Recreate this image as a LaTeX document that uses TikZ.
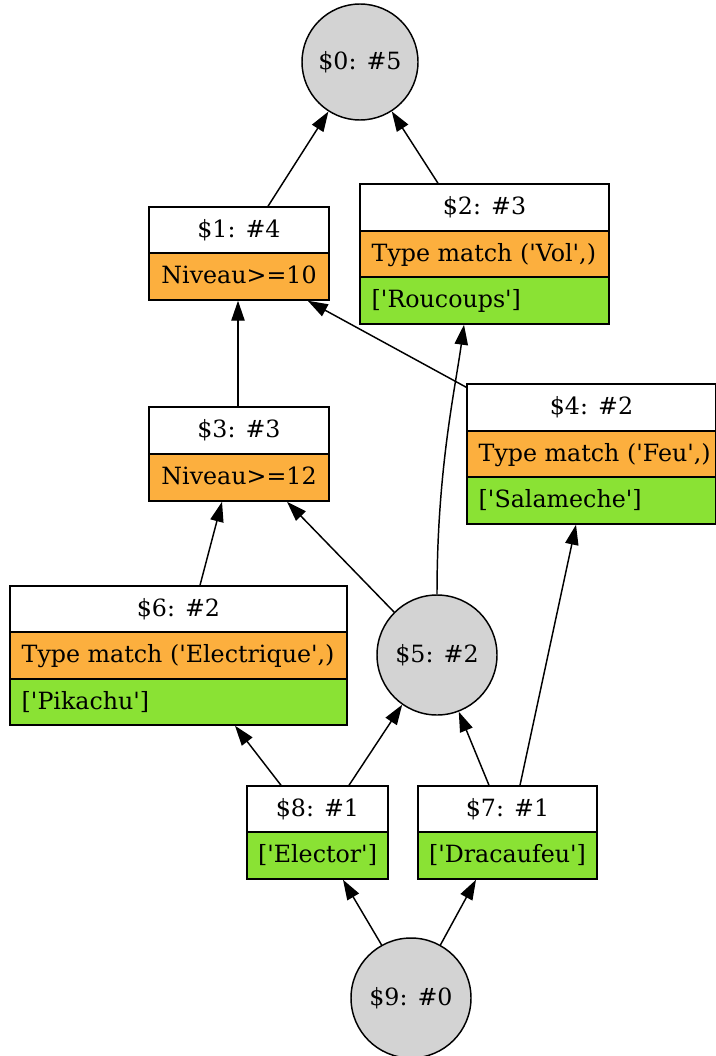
\documentclass[tikz,border=0pt]{standalone}
\usepackage{fontspec}
\newfontfamily\gv{DejaVu Serif}
\usetikzlibrary{arrows.meta,calc,fit}
\definecolor{orng}{HTML}{FCAF3E}
\definecolor{grn}{HTML}{8AE234}
\definecolor{gry}{HTML}{D3D3D3}
\begin{document}
\begin{tikzpicture}[x=0.75pt,y=-0.75pt, line width=1.1pt,
  font=\gv\fontsize{17.8}{20}\selectfont,
  txt/.style={inner sep=0pt, anchor=base},
  ltxt/.style={inner sep=0pt, anchor=base west},
  circ/.style={circle, draw, fill=gry, inner sep=0pt},
  boxframe/.style={draw, inner sep=0pt},
  edge/.style={-{Triangle[length=15pt,width=10pt]}}]
\useasboundingbox (0,0) rectangle (715,1056);

% circles
\node[circ, minimum size=87pt] (n0) at (360,62) {\$0: \#5};
\node[circ, minimum size=90pt] (n5) at (437,655) {\$5: \#2};
\node[circ, minimum size=90pt] (n9) at (411,998) {\$9: \#0};

% $1
\filldraw[fill=white] (149,207) rectangle (329,253);
\filldraw[fill=orng] (149,253) rectangle (329,300);
\node[fit={(149,207)(329,300)}, boxframe] (n1) {};
\node[txt] (n1a) at (239,237) {\$1: \#4};
\node[txt] (n1b) at (239,283.5) {Niveau>=10};

% $2
\filldraw[fill=white] (360,184) rectangle (609,231);
\filldraw[fill=orng] (360,231) rectangle (609,277);
\filldraw[fill=grn] (360,277) rectangle (609,324);
\node[fit={(360,184)(609,324)}, boxframe] (n2) {};
\node[txt] (n2a) at (484.5,214.5) {\$2: \#3};
\node[ltxt] (n2b) at (371,261) {Type match ('Vol',)};
\node[ltxt] (n2c) at (371,307.5) {['Roucoups']};

% $3
\filldraw[fill=white] (149,407) rectangle (329,454);
\filldraw[fill=orng] (149,454) rectangle (329,501);
\node[fit={(149,407)(329,501)}, boxframe] (n3) {};
\node[txt] (n3a) at (239,437.5) {\$3: \#3};
\node[txt] (n3b) at (239,484.5) {Niveau>=12};

% $4
\filldraw[fill=white] (467,384) rectangle (716,431);
\filldraw[fill=orng] (467,431) rectangle (716,477);
\filldraw[fill=grn] (467,477) rectangle (716,524);
\node[fit={(467,384)(716,524)}, boxframe] (n4) {};
\node[txt] (n4a) at (591.5,414.5) {\$4: \#2};
\node[ltxt] (n4b) at (478,461) {Type match ('Feu',)};
\node[ltxt] (n4c) at (478,507.5) {['Salameche']};

% $6
\filldraw[fill=white] (10,586) rectangle (347,632);
\filldraw[fill=orng] (10,632) rectangle (347,679);
\filldraw[fill=grn] (10,679) rectangle (347,725);
\node[fit={(10,586)(347,725)}, boxframe] (n6) {};
\node[txt] (n6a) at (178.5,616) {\$6: \#2};
\node[ltxt] (n6b) at (21,662.5) {Type match ('Electrique',)};
\node[ltxt] (n6c) at (21,709) {['Pikachu']};

% $8
\filldraw[fill=white] (247,786) rectangle (388,832);
\filldraw[fill=grn] (247,832) rectangle (388,879);
\node[fit={(247,786)(388,879)}, boxframe] (n8) {};
\node[txt] (n8a) at (317.5,816) {\$8: \#1};
\node[txt] (n8b) at (317.5,862.5) {['Elector']};

% $7
\filldraw[fill=white] (418,786) rectangle (597,832);
\filldraw[fill=grn] (418,832) rectangle (597,879);
\node[fit={(418,786)(597,879)}, boxframe] (n7) {};
\node[txt] (n7a) at (507.5,816) {\$7: \#1};
\node[txt] (n7b) at (507.5,862.5) {['Dracaufeu']};

% edges
\draw[edge] ($(n1.north)+(29,0)$) -- (n0);
\draw[edge] ($(n2.north)+(-46.5,0)$) -- (n0);
\draw[edge] ($(n3.north)+(-1,0)$) -- ($(n1.south)+(-1,0)$);
\draw[edge] ($(n4.north west)+(0,4)$) -- ($(n1.south east)+(-22,0)$);
\draw[edge] (n5.90) .. controls (437,470) and (455,390) .. ($(n2.south)+(-20.5,0)$);
\draw[edge] (n5.135) -- ($(n3.south)+(48,0)$);
\draw[edge] ($(n6.north)+(21.5,0)$) -- ($(n3.south)+(-17,0)$);
\draw[edge] ($(n8.north)+(-36.5,0)$) -- ($(n6.south)+(56.5,0)$);
\draw[edge] ($(n8.north)+(31.5,0)$) -- (n5.-125);
\draw[edge] ($(n7.north)+(-18.5,0)$) -- (n5.-69);
\draw[edge] ($(n7.north)+(12.5,0)$) -- ($(n4.south)+(-15.5,0)$);
\draw[edge] (n9.119) -- ($(n8.south)+(25.5,0)$);
\draw[edge] (n9.61) -- ($(n7.south)+(-31.5,0)$);
\end{tikzpicture}
\end{document}
